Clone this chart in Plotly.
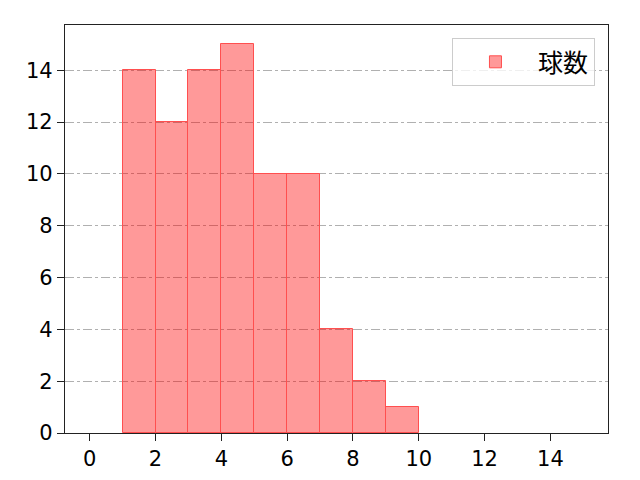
import plotly.graph_objects as go

# ヒストグラムのビン（左端）と度数
bin_left = [1, 2, 3, 4, 5, 6, 7, 8, 9]
counts = [14, 12, 14, 15, 10, 10, 4, 2, 1]
series_name = "球数"
x_ticks = [0, 2, 4, 6, 8, 10, 12, 14]
y_ticks = [0, 2, 4, 6, 8, 10, 12, 14]

fig = go.Figure()
fig.add_trace(go.Bar(
    x=[b + 0.5 for b in bin_left], y=counts, width=1,
    name=series_name,
    marker=dict(color="rgba(255,0,0,0.4)", line=dict(color="#ff4f4f", width=1)),
    showlegend=True,
))

axis_common = dict(
    showline=True, linecolor="#222222", linewidth=1.3, mirror=True,
    ticks="outside", ticklen=7, tickwidth=1.3, tickcolor="#222222",
    tickfont=dict(family="DejaVu Sans", size=21, color="black"), zeroline=False,
)
# ページ本体の余白 8px を考慮したマージン
fig.update_layout(
    width=640, height=480,
    paper_bgcolor="white", plot_bgcolor="white",
    margin=dict(l=57, r=40, t=17, b=55),
    font=dict(family="Noto Sans CJK JP", color="black"),
    bargap=0,
    xaxis=dict(range=[-0.75, 15.75], tickvals=x_ticks, showgrid=False, **axis_common),
    yaxis=dict(range=[0, 15.75], tickvals=y_ticks, showgrid=True,
               gridcolor="#b0b0b0", griddash="dashdot", gridwidth=0.8, **axis_common),
    legend=dict(x=0.976, y=0.968, xanchor="right", yanchor="top",
                bordercolor="#cccccc", borderwidth=1, bgcolor="rgba(255,255,255,0.8)",
                font=dict(size=25), itemwidth=75),
)
fig.write_html("out.html")
